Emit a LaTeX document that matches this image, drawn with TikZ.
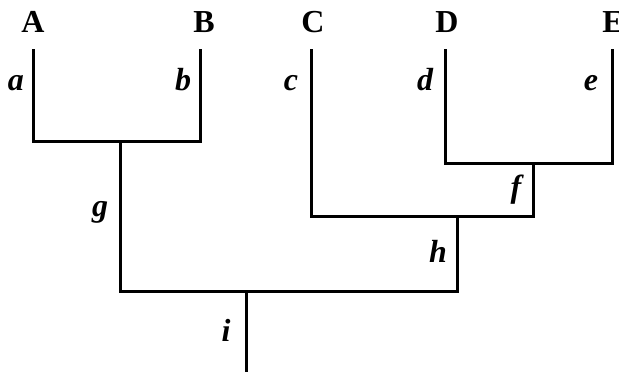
\documentclass[tikz,border=0pt]{standalone}
\usepackage{fontspec}
\setmainfont{Liberation Serif}
\begin{document}
\begin{tikzpicture}[x=1pt,y=-1pt,
  branch/.style={line width=3pt,line cap=rect},
  taxon/.style={font=\fontsize{32}{36}\selectfont\bfseries,anchor=base,inner sep=0pt},
  blab/.style={font=\fontsize{32}{36}\selectfont\bfseries\itshape,anchor=base,inner sep=0pt}]
\useasboundingbox (0,0) rectangle (619,372);
% tree points
\coordinate (Atop) at (33,50);
\coordinate (Abot) at (33,141);
\coordinate (Btop) at (200,50);
\coordinate (Bbot) at (200,141);
\coordinate (gtop) at (120,141);
\coordinate (gbot) at (120,291);
\coordinate (Ctop) at (311,50);
\coordinate (Cbot) at (311,216);
\coordinate (Dtop) at (445,50);
\coordinate (Dbot) at (445,163);
\coordinate (Etop) at (612,50);
\coordinate (Ebot) at (612,163);
\coordinate (ftop) at (533,163);
\coordinate (fbot) at (533,216);
\coordinate (htop) at (457,216);
\coordinate (hbot) at (457,291);
\coordinate (itop) at (246,291);
\coordinate (ibot) at (246,372);
% branches
\draw[branch] (Atop) -- (Abot) -- (Bbot) -- (Btop);
\draw[branch] (gtop) -- (gbot) -- (hbot) -- (htop);
\draw[branch] (Dtop) -- (Dbot) -- (Ebot) -- (Etop);
\draw[branch] (Ctop) -- (Cbot) -- (fbot) -- (ftop);
\draw[branch] (itop) -- (ibot);
% taxon labels
\node[taxon] (A) at (33,32) {A};
\node[taxon] (B) at (204,32) {B};
\node[taxon] (C) at (313,32) {C};
\node[taxon] (D) at (447,32) {D};
\node[taxon] (E) at (613,32) {E};
% branch labels
\node[blab] (la) at (16,90) {a};
\node[blab] (lb) at (183,90) {b};
\node[blab] (lc) at (291,90) {c};
\node[blab] (ld) at (425,90) {d};
\node[blab] (le) at (591,90) {e};
\node[blab] (lf) at (516,197) {f};
\node[blab] (lg) at (100,216) {g};
\node[blab] (lh) at (438,262) {h};
\node[blab] (li) at (226,341) {i};
\end{tikzpicture}
\end{document}
